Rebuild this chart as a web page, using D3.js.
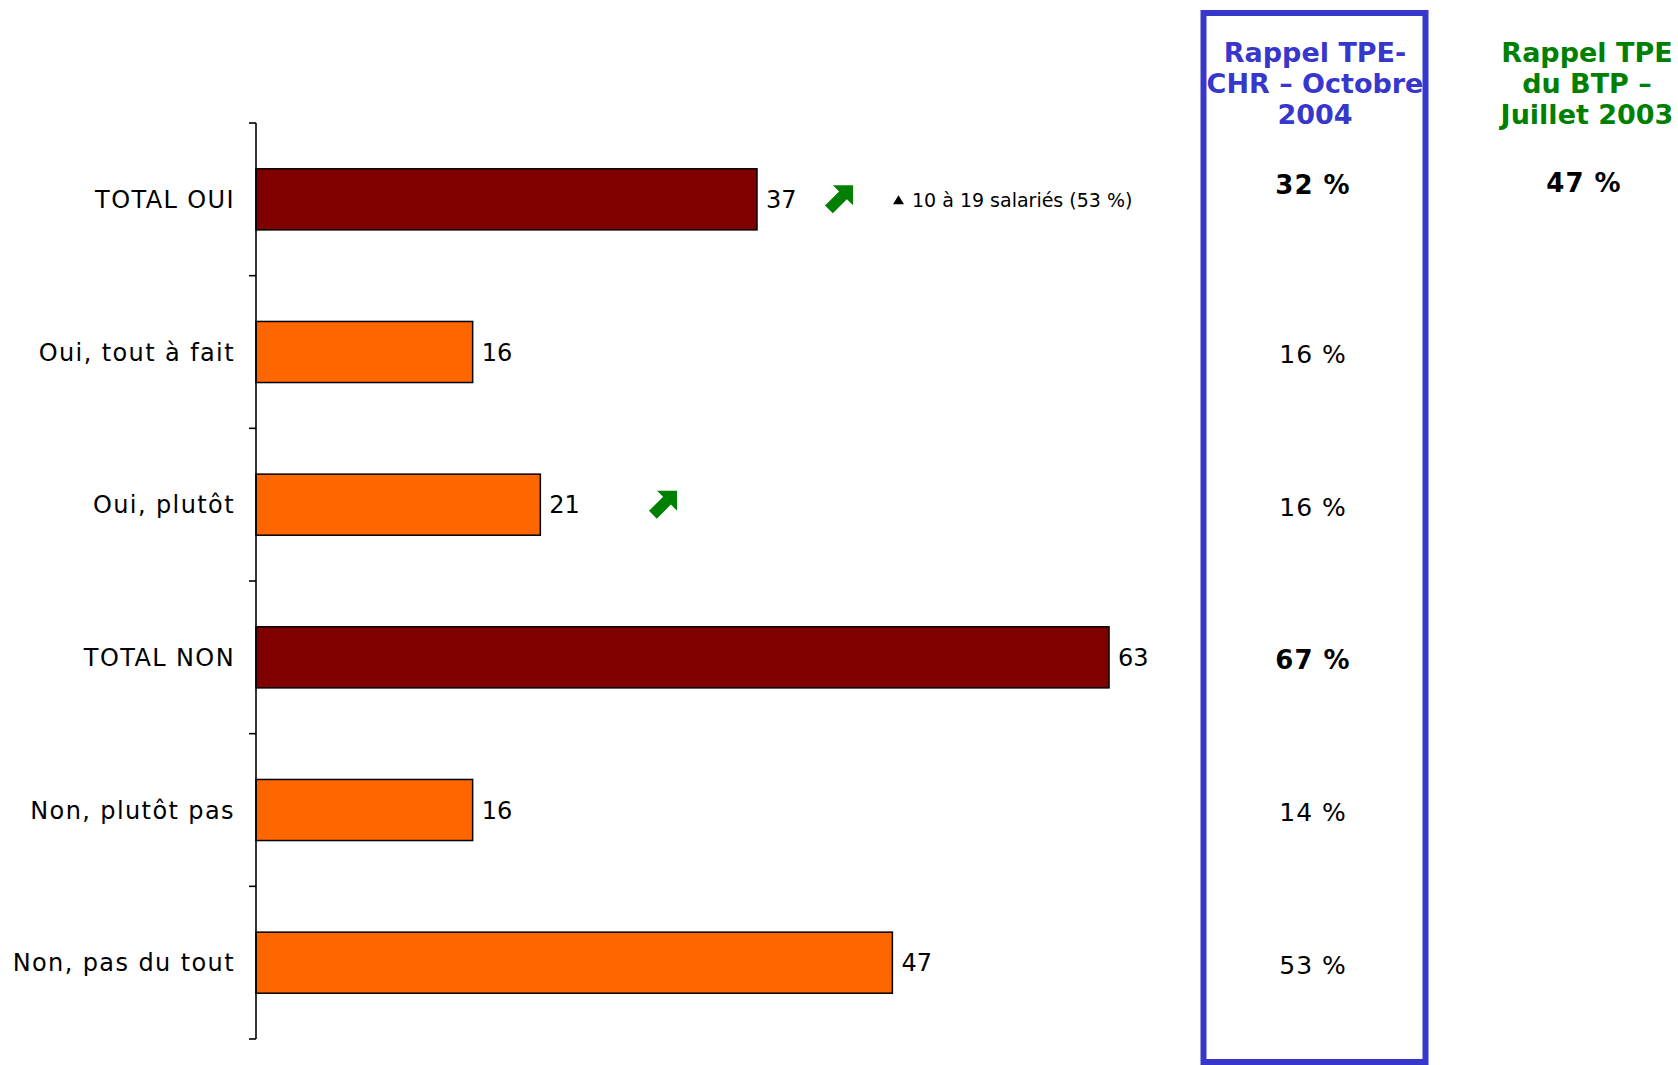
<!DOCTYPE html>
<html>
<head>
<meta charset="utf-8">
<script src="https://cdn.jsdelivr.net/npm/d3@7/dist/d3.min.js"></script>
<style>
  html, body { margin: 0; padding: 0; background: #fff; }
  svg { display: block; font-family: "DejaVu Sans", Verdana, sans-serif; }
</style>
</head>
<body>
<svg id="chart" width="1678" height="1065"></svg>
<script>
// ---- data ----
const categories = ["TOTAL OUI", "Oui, tout à fait", "Oui, plutôt", "TOTAL NON", "Non, plutôt pas", "Non, pas du tout"];
const values = [37, 16, 21, 63, 16, 47];
const isTotal = [true, false, false, true, false, false];
const upArrow = [true, false, true, false, false, false];
const rappelCHR = [32, 16, 16, 67, 14, 53];
const rappelBTP = [47, null, null, null, null, null];
const headerCHR = ["Rappel TPE-", "CHR – Octobre", "2004"];
const headerBTP = ["Rappel TPE", "du BTP –", "Juillet 2003"];
const noteText = "10 à 19 salariés (53 %)";

// ---- layout ----
const svg = d3.select("#chart");
const x = d3.scaleLinear().domain([0, 100]).range([256, 1610]);
const y = d3.scaleBand().domain(categories).range([123, 1039]).paddingInner(0.6).paddingOuter(0.3);
const blue = "#3737CC", green = "#008000";
const mid = d => y(d) + y.bandwidth() / 2;

// bars
svg.append("g").selectAll("rect").data(categories).join("rect")
  .attr("x", x(0))
  .attr("y", d => y(d))
  .attr("width", (d, i) => x(values[i]) - x(0))
  .attr("height", y.bandwidth())
  .attr("fill", (d, i) => isTotal[i] ? "#800000" : "#FF6600")
  .attr("stroke", "#000")
  .attr("stroke-width", 1.5);

// axis line + boundary ticks
const ax = svg.append("g").attr("stroke", "#000").attr("stroke-width", 1.6);
ax.append("line").attr("x1", x(0)).attr("x2", x(0)).attr("y1", y.range()[0]).attr("y2", y.range()[1]);
const bounds = d3.range(categories.length + 1).map(i => y.range()[0] + i * y.step());
ax.selectAll("line.tick").data(bounds).join("line").attr("class", "tick")
  .attr("x1", x(0) - 7).attr("x2", x(0)).attr("y1", d => d).attr("y2", d => d);

// category labels
svg.append("g").selectAll("text").data(categories).join("text")
  .attr("x", x(0) - 21)
  .attr("y", mid)
  .attr("dy", "0.36em")
  .attr("text-anchor", "end")
  .attr("font-size", 24)
  .attr("letter-spacing", 1.4)
  .attr("fill", "#000")
  .text(d => d);

// value labels
svg.append("g").selectAll("text").data(categories).join("text")
  .attr("x", (d, i) => x(values[i]) + 9)
  .attr("y", mid)
  .attr("dy", "0.36em")
  .attr("font-size", 24)
  .attr("fill", "#000")
  .text((d, i) => values[i]);

// green up-right arrows
const arrowX = [839, null, 663];
const arrowPath = "M28,0 L28,20 L21.9,13.9 L7.8,28 L0,20.2 L14.1,6.1 L8,0 Z";
categories.forEach((c, i) => {
  if (!upArrow[i]) return;
  svg.append("path")
    .attr("d", arrowPath)
    .attr("fill", green)
    .attr("transform", `translate(${arrowX[i] - 14},${mid(c) - 14})`);
});

// note next to TOTAL OUI
const ny = mid(categories[0]);
svg.append("path").attr("d", `M893,${ny + 5} L904,${ny + 5} L898.5,${ny - 4} Z`).attr("fill", "#000");
svg.append("text").attr("x", 912).attr("y", ny + 8).attr("font-size", 19).attr("fill", "#000").text(noteText);

// blue box
svg.append("rect").attr("x", 1203.5).attr("y", 13).attr("width", 222).attr("height", 1049)
  .attr("fill", "none").attr("stroke", blue).attr("stroke-width", 6);

// headers
const hdr = (lines, cx, color) => {
  svg.append("g").selectAll("text").data(lines).join("text")
    .attr("x", cx).attr("y", (d, i) => 62 + i * 31)
    .attr("text-anchor", "middle")
    .attr("font-size", 27).attr("font-weight", "bold")
    .attr("fill", color).text(d => d);
};
hdr(headerCHR, 1315, blue);
hdr(headerBTP, 1587, green);

// rappel values (first row sits just under the headers)
const rowY = (d, i) => mid(d) + (i === 0 ? -15 : 2);
svg.append("g").selectAll("text").data(categories).join("text")
  .attr("x", 1313)
  .attr("y", rowY)
  .attr("dy", "0.36em")
  .attr("text-anchor", "middle")
  .attr("font-size", (d, i) => isTotal[i] ? 26 : 25)
  .attr("font-weight", (d, i) => isTotal[i] ? "bold" : "normal")
  .attr("letter-spacing", 1)
  .attr("fill", "#000")
  .text((d, i) => rappelCHR[i] + " %");

svg.append("g").selectAll("text").data(categories.filter((d, i) => rappelBTP[i] != null)).join("text")
  .attr("x", 1584)
  .attr("y", d => rowY(d, categories.indexOf(d)) - 2)
  .attr("dy", "0.36em")
  .attr("text-anchor", "middle")
  .attr("font-size", 26)
  .attr("font-weight", "bold")
  .attr("letter-spacing", 1)
  .attr("fill", "#000")
  .text(d => rappelBTP[categories.indexOf(d)] + " %");
</script>
</body>
</html>
